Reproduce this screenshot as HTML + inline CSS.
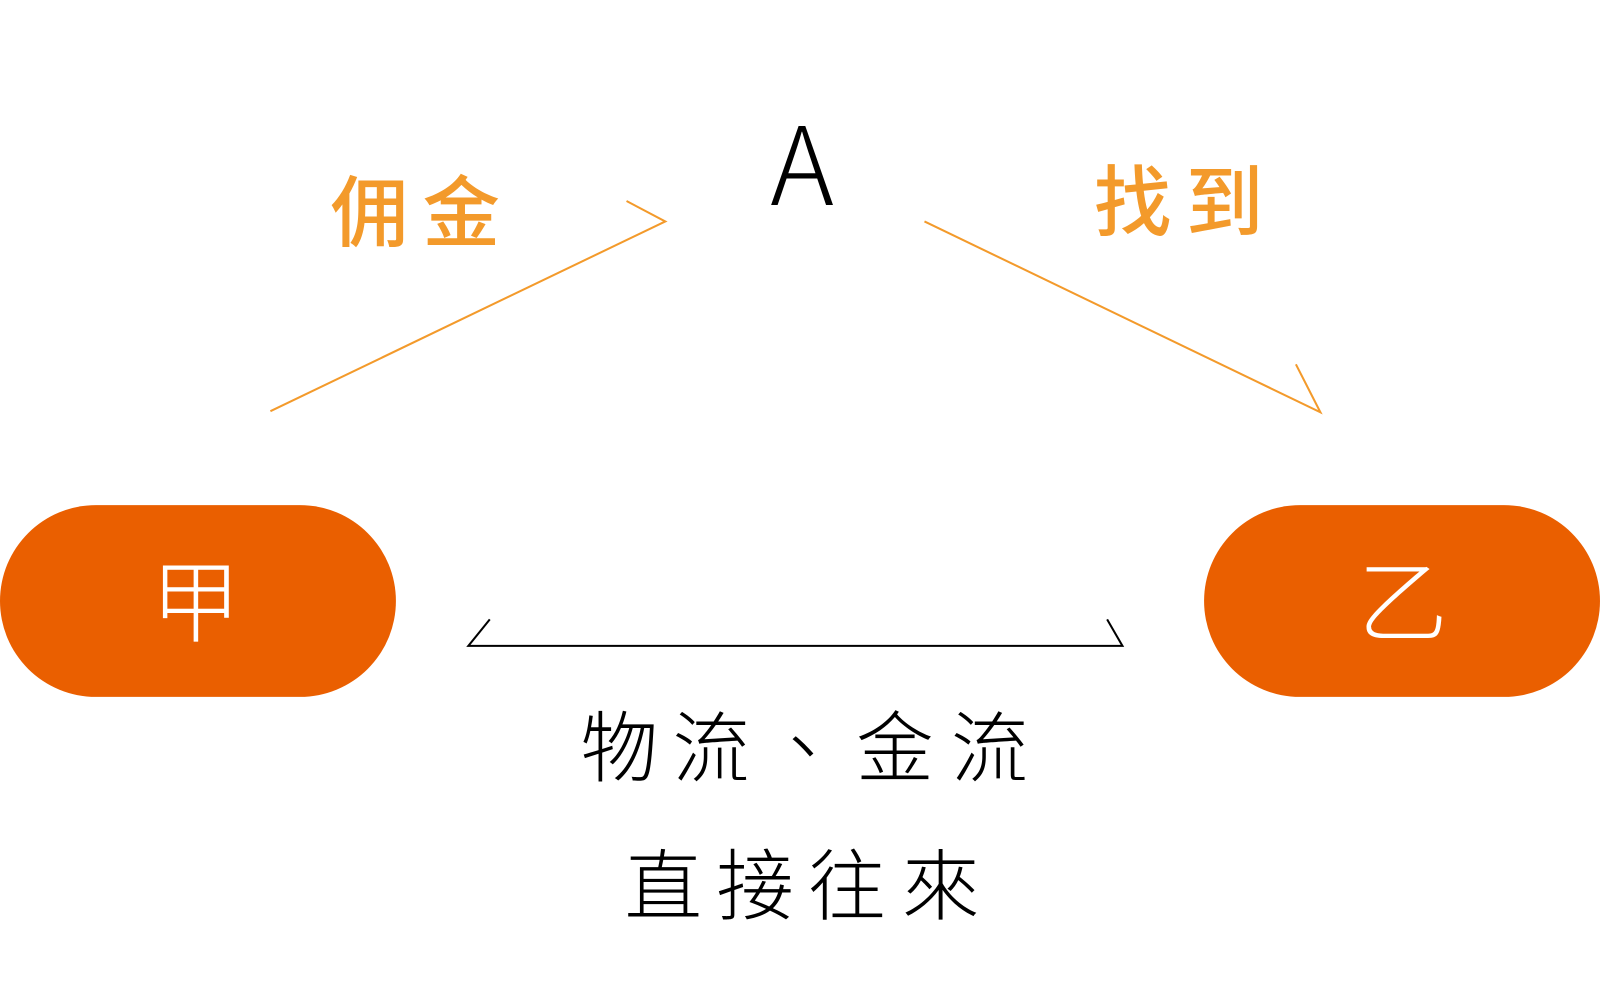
<!DOCTYPE html>
<html><head><meta charset="utf-8"><style>
html,body{margin:0;padding:0;background:#fff;width:1600px;height:1002px;overflow:hidden}
svg{display:block}
.cjk{font-family:"Liberation Sans","Noto Sans CJK TC","Noto Sans CJK SC",sans-serif}
</style></head><body>
<svg width="1600" height="1002" viewBox="0 0 1600 1002" xmlns="http://www.w3.org/2000/svg">
<g transform="scale(1.0204)">
<rect x="0" y="495" width="388" height="188" rx="94" fill="#EA5F00"/>
<rect x="1180" y="495" width="388" height="188" rx="94" fill="#EA5F00"/>
<g class="cjk" font-weight="300" fill="#fff" font-size="88" text-anchor="middle">
<text x="192" y="622">甲</text>
<text x="1375" y="622">乙</text>
</g>
<text x="786" y="201" font-family="Noto Sans CJK TC, sans-serif" font-weight="300" font-size="106" text-anchor="middle" fill="#000">A</text>
<g class="cjk" font-weight="500" fill="#F39A2B" font-size="76" text-anchor="middle">
<text x="362" y="235">佣</text><text x="452" y="235">金</text>
<text x="1110" y="225">找</text><text x="1200" y="225">到</text>
</g>
<g stroke="#F39A2B" stroke-width="2" fill="none">
<polyline points="265,403 652,217 614,197"/>
<polyline points="906,217 1294,404 1270,357"/>
</g>
<polyline points="480,607 459,633 1100,633 1085,607" stroke="#000" stroke-width="2" fill="none"/>
<g class="cjk" font-weight="300" fill="#000" font-size="76" text-anchor="middle">
<text x="607" y="760">物</text><text x="697" y="760">流</text><text x="787" y="760">、</text><text x="877" y="760">金</text><text x="970" y="760">流</text>
<text x="650" y="895">直</text><text x="740" y="895">接</text><text x="830" y="895">往</text><text x="922" y="895">來</text>
</g>
</g>
</svg>
</body></html>
